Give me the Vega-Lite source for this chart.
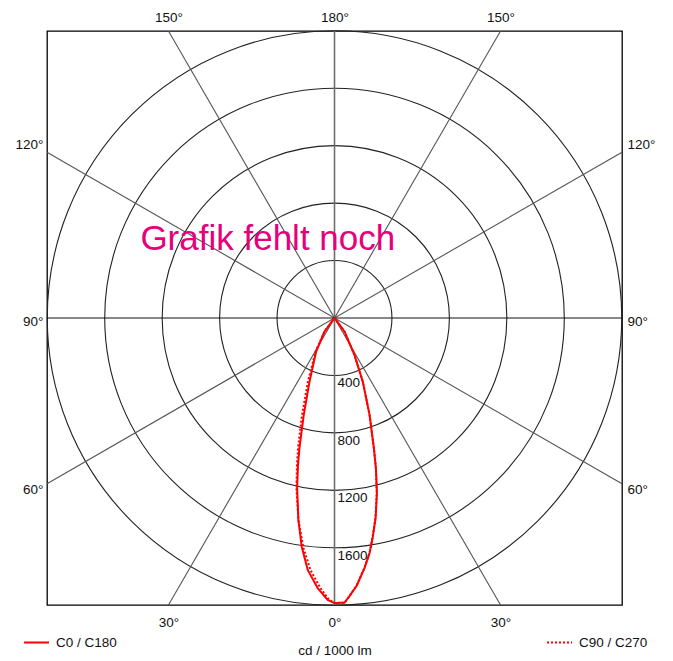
{
  "$schema": "https://vega.github.io/schema/vega-lite/v6.json",
  "width": 575,
  "height": 574,
  "autosize": "none",
  "padding": {"left": 47, "top": 31, "right": 51, "bottom": 56},
  "background": "white",
  "config": {
    "view": {"stroke": "#000000", "strokeWidth": 1.3},
    "font": "Liberation Sans",
    "axis": {
      "domain": false, "ticks": false, "tickSize": 0, "grid": false,
      "labelFont": "Liberation Sans", "labelFontSize": 13.5, "labelColor": "#111111",
      "titleFont": "Liberation Sans", "titleFontSize": 13.5, "titleFontWeight": "normal", "titleColor": "#111111",
      "labelOverlap": false, "labelFlush": false
    }
  },
  "datasets": {
    "rings": [{"r": 400}, {"r": 800}, {"r": 1200}, {"r": 1600}, {"r": 2000}],
    "spokes": [
      {"angle": 0, "x": 0, "y": -2000, "x2": 0, "y2": 2000},
      {"angle": 30, "x": -1155, "y": 2000, "x2": 1155, "y2": -2000},
      {"angle": -30, "x": 1155, "y": 2000, "x2": -1155, "y2": -2000},
      {"angle": 60, "x": -2000, "y": 1155, "x2": 2000, "y2": -1155},
      {"angle": -60, "x": 2000, "y": 1155, "x2": -2000, "y2": -1155},
      {"angle": 90, "x": -2000, "y": 0, "x2": 2000, "y2": 0}
    ],
    "curves": [
      {"series": "C0 / C180", "i": 0, "x": 0, "y": 0},
      {"series": "C0 / C180", "i": 1, "x": 70, "y": 95},
      {"series": "C0 / C180", "i": 2, "x": 139, "y": 258},
      {"series": "C0 / C180", "i": 3, "x": 197, "y": 444},
      {"series": "C0 / C180", "i": 4, "x": 244, "y": 676},
      {"series": "C0 / C180", "i": 5, "x": 274, "y": 908},
      {"series": "C0 / C180", "i": 6, "x": 288, "y": 1045},
      {"series": "C0 / C180", "i": 7, "x": 295, "y": 1220},
      {"series": "C0 / C180", "i": 8, "x": 286, "y": 1394},
      {"series": "C0 / C180", "i": 9, "x": 265, "y": 1533},
      {"series": "C0 / C180", "i": 10, "x": 244, "y": 1638},
      {"series": "C0 / C180", "i": 11, "x": 209, "y": 1742},
      {"series": "C0 / C180", "i": 12, "x": 153, "y": 1868},
      {"series": "C0 / C180", "i": 13, "x": 105, "y": 1937},
      {"series": "C0 / C180", "i": 14, "x": 70, "y": 1984},
      {"series": "C0 / C180", "i": 15, "x": 0, "y": 1986},
      {"series": "C0 / C180", "i": 16, "x": -47, "y": 1965},
      {"series": "C0 / C180", "i": 17, "x": -116, "y": 1884},
      {"series": "C0 / C180", "i": 18, "x": -186, "y": 1756},
      {"series": "C0 / C180", "i": 19, "x": -228, "y": 1594},
      {"series": "C0 / C180", "i": 20, "x": -251, "y": 1408},
      {"series": "C0 / C180", "i": 21, "x": -260, "y": 1185},
      {"series": "C0 / C180", "i": 22, "x": -254, "y": 1024},
      {"series": "C0 / C180", "i": 23, "x": -244, "y": 908},
      {"series": "C0 / C180", "i": 24, "x": -214, "y": 676},
      {"series": "C0 / C180", "i": 25, "x": -174, "y": 444},
      {"series": "C0 / C180", "i": 26, "x": -128, "y": 235},
      {"series": "C0 / C180", "i": 27, "x": -70, "y": 95},
      {"series": "C0 / C180", "i": 28, "x": 0, "y": 0},
      {"series": "C90 / C270", "i": 0, "x": 0, "y": 0},
      {"series": "C90 / C270", "i": 1, "x": 70, "y": 95},
      {"series": "C90 / C270", "i": 2, "x": 139, "y": 258},
      {"series": "C90 / C270", "i": 3, "x": 197, "y": 444},
      {"series": "C90 / C270", "i": 4, "x": 244, "y": 676},
      {"series": "C90 / C270", "i": 5, "x": 274, "y": 908},
      {"series": "C90 / C270", "i": 6, "x": 288, "y": 1045},
      {"series": "C90 / C270", "i": 7, "x": 294, "y": 1220},
      {"series": "C90 / C270", "i": 8, "x": 285, "y": 1394},
      {"series": "C90 / C270", "i": 9, "x": 264, "y": 1533},
      {"series": "C90 / C270", "i": 10, "x": 243, "y": 1638},
      {"series": "C90 / C270", "i": 11, "x": 208, "y": 1742},
      {"series": "C90 / C270", "i": 12, "x": 152, "y": 1868},
      {"series": "C90 / C270", "i": 13, "x": 104, "y": 1937},
      {"series": "C90 / C270", "i": 14, "x": 70, "y": 1984},
      {"series": "C90 / C270", "i": 15, "x": 0, "y": 1986},
      {"series": "C90 / C270", "i": 16, "x": -40, "y": 1962},
      {"series": "C90 / C270", "i": 17, "x": -98, "y": 1882},
      {"series": "C90 / C270", "i": 18, "x": -167, "y": 1756},
      {"series": "C90 / C270", "i": 19, "x": -216, "y": 1603},
      {"series": "C90 / C270", "i": 20, "x": -251, "y": 1408},
      {"series": "C90 / C270", "i": 21, "x": -265, "y": 1185},
      {"series": "C90 / C270", "i": 22, "x": -261, "y": 1024},
      {"series": "C90 / C270", "i": 23, "x": -254, "y": 906},
      {"series": "C90 / C270", "i": 24, "x": -226, "y": 676},
      {"series": "C90 / C270", "i": 25, "x": -185, "y": 444},
      {"series": "C90 / C270", "i": 26, "x": -132, "y": 235},
      {"series": "C90 / C270", "i": 27, "x": -70, "y": 95},
      {"series": "C90 / C270", "i": 28, "x": 0, "y": 0}
    ],
    "note": [{"text": "Grafik fehlt noch", "x": -464, "y": -472}]
  },
  "resolve": {"axis": {"x": "independent", "y": "independent"}},
  "layer": [
    {
      "data": {"name": "rings"},
      "mark": {"type": "point", "shape": "circle", "filled": false, "color": "#222222", "strokeWidth": 1.1, "opacity": 1},
      "encoding": {
        "x": {"datum": 0, "type": "quantitative", "scale": {"domain": [-2000, 2000], "nice": false, "zero": false}, "axis": null},
        "y": {"datum": 0, "type": "quantitative", "scale": {"domain": [-2000, 2000], "nice": false, "zero": false, "reverse": true}, "axis": null},
        "size": {"field": "r", "type": "quantitative", "scale": {"type": "pow", "exponent": 2, "domain": [0, 2000], "range": [0, 330000]}, "legend": null}
      }
    },
    {
      "data": {"name": "spokes"},
      "transform": [{"filter": "datum.angle != 0 && datum.angle != 90"}],
      "mark": {"type": "rule", "color": "#555555", "strokeWidth": 1.1},
      "encoding": {
        "x": {"field": "x", "type": "quantitative", "scale": {"domain": [-2000, 2000], "nice": false, "zero": false},
          "axis": {"orient": "bottom", "values": [-1155, 0, 1155], "labelExpr": "datum.value == 0 ? '0°' : '30°'", "labelPadding": 10, "title": "cd / 1000 lm", "titlePadding": 15}},
        "y": {"field": "y", "type": "quantitative", "scale": {"domain": [-2000, 2000], "nice": false, "zero": false, "reverse": true},
          "axis": {"orient": "left", "values": [-1209, 25, 1195], "labelExpr": "datum.value < -500 ? '120°' : (datum.value > 500 ? '60°' : '90°')", "labelPadding": 4, "title": null}},
        "x2": {"field": "x2"},
        "y2": {"field": "y2"}
      }
    },
    {
      "data": {"name": "spokes"},
      "transform": [{"filter": "datum.angle == 0"}],
      "mark": {"type": "rule", "color": "#6e6e6e", "strokeWidth": 1.6},
      "encoding": {
        "x": {"field": "x", "type": "quantitative", "scale": {"domain": [-2000, 2000], "nice": false, "zero": false}, "axis": null},
        "y": {"field": "y", "type": "quantitative", "scale": {"domain": [-2000, 2000], "nice": false, "zero": false, "reverse": true}, "axis": null},
        "x2": {"field": "x2"},
        "y2": {"field": "y2"}
      }
    },
    {
      "data": {"name": "spokes"},
      "transform": [{"filter": "datum.angle == 90"}],
      "mark": {"type": "rule", "color": "#111111", "strokeWidth": 1.1},
      "encoding": {
        "x": {"field": "x", "type": "quantitative", "scale": {"domain": [-2000, 2000], "nice": false, "zero": false}, "axis": null},
        "y": {"field": "y", "type": "quantitative", "scale": {"domain": [-2000, 2000], "nice": false, "zero": false, "reverse": true}, "axis": null},
        "x2": {"field": "x2"},
        "y2": {"field": "y2"}
      }
    },
    {
      "data": {"name": "curves"},
      "mark": {"type": "line", "color": "#ff0000", "strokeWidth": 2},
      "encoding": {
        "x": {"field": "x", "type": "quantitative", "scale": {"domain": [-2000, 2000], "nice": false, "zero": false},
          "axis": {"orient": "top", "values": [-1155, 0, 1155], "labelExpr": "datum.value == 0 ? '180°' : '150°'", "labelPadding": 7, "title": null}},
        "y": {"field": "y", "type": "quantitative", "scale": {"domain": [-2000, 2000], "nice": false, "zero": false, "reverse": true},
          "axis": {"orient": "right", "values": [-1209, 25, 1195], "labelExpr": "datum.value < -500 ? '120°' : (datum.value > 500 ? '60°' : '90°')", "labelPadding": 5, "title": null}},
        "order": {"field": "i", "type": "quantitative"},
        "strokeDash": {"field": "series", "type": "nominal",
          "scale": {"domain": ["C0 / C180", "C90 / C270"], "range": [[1, 0], [2, 2]]},
          "legend": {"orient": "none", "legendX": -24, "legendY": 598, "direction": "horizontal", "title": null,
            "symbolType": "stroke", "symbolSize": 625, "symbolStrokeWidth": 2, "symbolStrokeColor": "#ff0000",
            "labelFont": "Liberation Sans", "labelFontSize": 13.5, "labelColor": "#111111", "labelOffset": 6,
            "columnPadding": 426, "padding": 0}}
      }
    },
    {
      "data": {"name": "rings"},
      "transform": [{"filter": "datum.r < 2000"}],
      "mark": {"type": "text", "align": "left", "baseline": "top", "dx": 3, "dy": 1, "fontSize": 13.5, "font": "Liberation Sans", "color": "#111111"},
      "encoding": {
        "x": {"datum": 0, "type": "quantitative", "scale": {"domain": [-2000, 2000], "nice": false, "zero": false}, "axis": null},
        "y": {"field": "r", "type": "quantitative", "scale": {"domain": [-2000, 2000], "nice": false, "zero": false, "reverse": true}, "axis": null},
        "text": {"field": "r", "type": "quantitative", "format": "d"}
      }
    },
    {
      "data": {"name": "note"},
      "mark": {"type": "text", "align": "center", "baseline": "alphabetic", "fontSize": 35, "font": "Liberation Sans", "color": "#e6007e"},
      "encoding": {
        "x": {"field": "x", "type": "quantitative", "scale": {"domain": [-2000, 2000], "nice": false, "zero": false}, "axis": null},
        "y": {"field": "y", "type": "quantitative", "scale": {"domain": [-2000, 2000], "nice": false, "zero": false, "reverse": true}, "axis": null},
        "text": {"field": "text"}
      }
    }
  ]
}
